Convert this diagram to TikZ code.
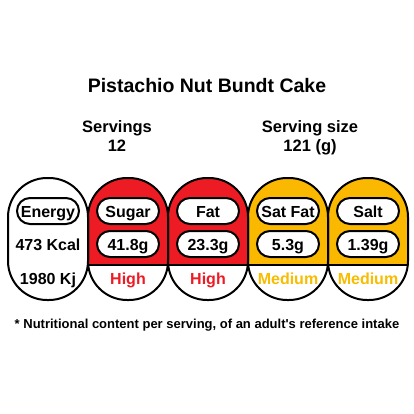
\documentclass[tikz,border=0pt]{standalone}
\usepackage{fontspec}
\setmainfont{Liberation Sans}[Ligatures=TeXOff]
\definecolor{hired}{RGB}{237,28,36}
\definecolor{medamb}{RGB}{250,185,0}
\definecolor{medtxt}{RGB}{248,188,0}
\begin{document}
\begin{tikzpicture}[x=1pt,y=-1pt,
  txt/.style={font=\fontsize{16}{18}\selectfont\bfseries, inner sep=0pt, anchor=base},
  pill/.style={draw=black, line width=2pt, fill=white, rounded corners=13pt, minimum width=62pt, minimum height=26pt, inner sep=0pt},
  colbox/.style={line width=2pt, rounded corners=39pt}
]
\useasboundingbox (0,0) rectangle (414,414);
\fill[white] (0,0) rectangle (414,414);
\node[font=\fontsize{19.5}{22}\selectfont\bfseries, anchor=base] (title) at (207,93) {Pistachio Nut Bundt Cake};
\node[font=\fontsize{16.5}{19}\selectfont\bfseries, anchor=base] (serv) at (117,132) {Servings};
\node[font=\fontsize{16.5}{19}\selectfont\bfseries, anchor=base] (servn) at (117,151) {12};
\node[font=\fontsize{16.5}{19}\selectfont\bfseries, anchor=base] (size) at (310,132) {Serving size};
\node[font=\fontsize{16.5}{19}\selectfont\bfseries, anchor=base] (sizen) at (310,151) {121 (g)};
% columns
\foreach \i/\col in {1/hired,2/hired,3/medamb,4/medamb}{
  \pgfmathsetmacro{\xl}{8+80*\i}
  \begin{scope}
    \clip (\xl-2,170) rectangle (\xl+82,265);
    \fill[\col, rounded corners=39pt] (\xl,178) rectangle (\xl+80,300);
  \end{scope}
  \draw[line width=2pt] (\xl,265) -- (\xl+80,265);
}
\foreach \i in {0,...,4}{
  \pgfmathsetmacro{\xl}{8+80*\i}
  \draw[colbox] (\xl,178) rectangle (\xl+80,300);
}
% Energy
\node[pill] (p1a) at (48,211) {};
\node[txt] (t1a) at (48,217) {Energy};
\node[txt] (t1b) at (48,250) {473 Kcal};
\node[txt] (t1c) at (48,284) {1980 Kj};
% Sugar
\node[pill] (p2a) at (128,211) {};
\node[txt] (t2a) at (128,217) {Sugar};
\node[pill] (p2b) at (128,244) {};
\node[txt] (t2b) at (128,250) {41.8g};
\node[txt, text=hired] (t2c) at (128,284) {High};
% Fat
\node[pill] (p3a) at (208,211) {};
\node[txt] (t3a) at (208,217) {Fat};
\node[pill] (p3b) at (208,244) {};
\node[txt] (t3b) at (208,250) {23.3g};
\node[txt, text=hired] (t3c) at (208,284) {High};
% Sat Fat
\node[pill] (p4a) at (288,211) {};
\node[txt] (t4a) at (288,217) {Sat Fat};
\node[pill] (p4b) at (288,244) {};
\node[txt] (t4b) at (288,250) {5.3g};
\node[txt, text=medtxt] (t4c) at (288,284) {Medium};
% Salt
\node[pill] (p5a) at (368,211) {};
\node[txt] (t5a) at (368,217) {Salt};
\node[pill] (p5b) at (368,244) {};
\node[txt] (t5b) at (368,250) {1.39g};
\node[txt, text=medtxt] (t5c) at (368,284) {Medium};
\node[font=\fontsize{13}{15}\selectfont\bfseries, anchor=base] (foot) at (207,328) {* Nutritional content per serving, of an adult's reference intake};
\end{tikzpicture}
\end{document}
